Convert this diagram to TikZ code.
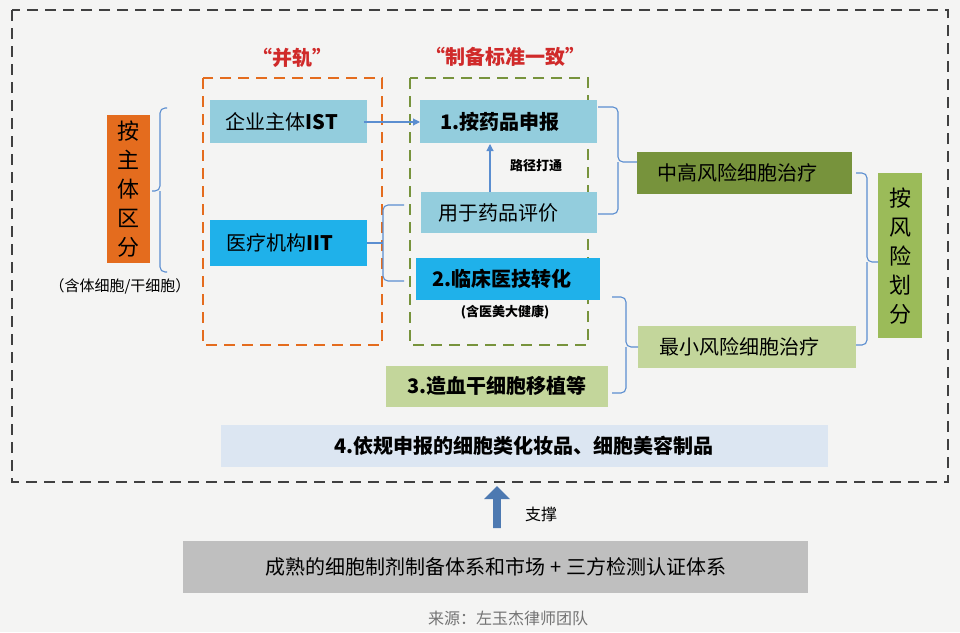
\documentclass[tikz,border=0pt]{standalone}
\usepackage{fontspec}
\setmainfont{Noto Sans CJK SC}
\usetikzlibrary{arrows.meta,shapes.arrows}
\definecolor{bg}{HTML}{F4F4F3}
\definecolor{lb}{HTML}{93CDDD}
\definecolor{cy}{HTML}{1FB1EA}
\definecolor{og}{HTML}{E46C1E}
\definecolor{dg}{HTML}{77933C}
\definecolor{lg}{HTML}{C3D69B}
\definecolor{mg}{HTML}{9BBB59}
\definecolor{pb}{HTML}{DCE6F2}
\definecolor{gy}{HTML}{BFBFBF}
\definecolor{ln}{HTML}{5B8ED0}
\definecolor{rd}{HTML}{D02A2A}
\begin{document}
\begin{tikzpicture}[x=1pt,y=-1pt,
  tx/.style={font=\fontsize{20}{22}\selectfont},
  br/.style={draw=ln,line width=1.1pt,rounded corners=5pt},
  vt/.style={align=center,font=\fontsize{22}{29}\selectfont}]
\fill[bg] (0,0) rectangle (960,632);
\useasboundingbox (0,0) rectangle (960,632);
\draw[dash pattern=on 11pt off 7pt,line width=1.8pt,black!75] (12,10) rectangle (948,482);
% left
\fill[og] (107,115) rectangle (150,263);
\node[vt] (a) at (128.5,189) {按\\主\\体\\区\\分};
\node[font=\fontsize{15}{16}\selectfont] (ac) at (120,286) {（含体细胞/干细胞）};
\draw[br] (167,108) -- (160,108) -- (160,191) -- (152,191);
\draw[br] (160,191) -- (160,272) -- (167,272);
% orange dashed
\draw[og,dash pattern=on 11pt off 7pt,line width=2.2pt] (203,78) rectangle (382,345);
\node[rd,font=\fontsize{20}{22}\selectfont\bfseries] (t1) at (292,58) {“并轨”};
\fill[lb] (210,100) rectangle (367,143);
\node[tx] (ist) at (282,122) {企业主体\textbf{IST}};
\fill[cy] (210,220) rectangle (367,266);
\node[tx] (iit) at (280,243) {医疗机构\textbf{IIT}};
% green dashed
\draw[dg,dash pattern=on 11pt off 7pt,line width=2.2pt] (410,78) rectangle (588,345);
\node[rd,font=\fontsize{20}{22}\selectfont\bfseries] (t2) at (505,57) {“制备标准一致”};
\fill[lb] (420,100) rectangle (597,143);
\node[tx,font=\fontsize{20}{22}\selectfont\bfseries] (n1) at (500,122) {1.按药品申报};
\fill[lb] (421,192) rectangle (597,233);
\node[tx] (ev) at (498,213) {用于药品评价};
\fill[cy] (416,258) rectangle (600,300);
\node[tx,font=\fontsize{20}{22}\selectfont\bfseries] (n2) at (502,279) {2.临床医技转化};
\node[font=\fontsize{13}{14}\selectfont\bfseries] (n2c) at (505,312) {(含医美大健康)};
\node[font=\fontsize{13}{14}\selectfont\bfseries] (lj) at (536,166) {路径打通};
\coordinate (evt) at (490,192); \coordinate (n1b) at (490,144);
\draw[ln,line width=1.1pt,-{Triangle[length=7pt,width=7pt]}] (evt) -- (n1b);
\coordinate (istr) at (364,122); \coordinate (n1l) at (420,122);
\draw[ln,line width=1.1pt,-{Triangle[length=7pt,width=7pt]}] (istr) -- (n1l);
\draw[br] (367,243) -- (383,243);
\draw[br] (404,205) -- (383,205) -- (383,281) -- (404,281);
% right braces
\fill[dg] (637,152) rectangle (852,194);
\node[tx] (mh) at (737,173) {中高风险细胞治疗};
\draw[br] (598,107) -- (618,107) -- (618,162) -- (637,162);
\draw[br] (618,162) -- (618,214) -- (598,214);
\fill[lg] (386,366) rectangle (608,407);
\node[tx,font=\fontsize{20}{22}\selectfont\bfseries] (n3) at (497,386) {3.造血干细胞移植等};
\fill[lg] (638,326) rectangle (856,368);
\node[tx] (mn) at (739,347) {最小风险细胞治疗};
\draw[br] (612,297) -- (626,297) -- (626,347) -- (638,347);
\draw[br] (626,347) -- (626,393) -- (612,393);
\fill[mg] (878,173) rectangle (922,338);
\node[vt] (rk) at (900,256) {按\\风\\险\\划\\分};
\draw[br] (856,173) -- (867,173) -- (867,262) -- (878,262);
\draw[br] (867,262) -- (867,345) -- (856,345);
% bottom
\fill[pb] (221,425) rectangle (828,467);
\node[tx,font=\fontsize{20}{22}\selectfont\bfseries] (n4) at (524,446) {4.依规申报的细胞类化妆品、细胞美容制品};
\node[single arrow,shape border rotate=90,fill=ln!85!black,minimum height=42pt,minimum width=26pt,single arrow head extend=5pt,inner sep=2pt] (up) at (497,509) {};
\node[font=\fontsize{16}{16}\selectfont] (zc) at (541,514) {支撑};
\fill[gy] (183,541) rectangle (808,593);
\node[tx] (bt) at (496,567) {成熟的细胞制剂制备体系和市场 + 三方检测认证体系};
\node[font=\fontsize{16}{16}\selectfont,black!55] (src) at (508,618) {来源：左玉杰律师团队};
\end{tikzpicture}
\end{document}
